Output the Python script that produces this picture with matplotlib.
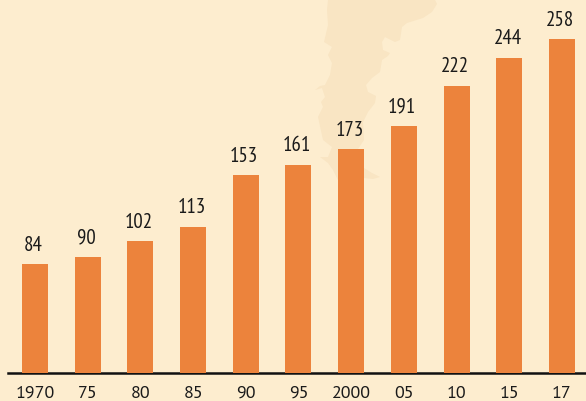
import matplotlib
matplotlib.use('Agg')
import matplotlib.pyplot as plt
from matplotlib import font_manager as fm
from matplotlib.patches import Polygon
from matplotlib.transforms import Affine2D

# -- Data --
years = ['1970', '75', '80', '85', '90', '95', '2000', '05', '10', '15', '17']
values = [84, 90, 102, 113, 153, 161, 173, 191, 222, 244, 258]

BG = '#FDEDCF'
BAR = '#EC833C'
MAP = '#F9E5C3'
W, H = 586, 401

# map silhouette behind the bars, traced in reference pixels
map_outline = [
    (328, 0), (435, 0), (437, 4), (432, 12), (423, 18), (407, 23), (402, 27),
    (400, 40), (395, 42), (385, 37), (382, 42), (383, 50), (390, 53), (388, 56),
    (382, 60), (380, 72), (372, 78), (366, 85), (368, 92), (376, 96), (375, 103),
    (368, 112), (363, 122), (364, 140), (358, 149), (364, 168), (372, 173),
    (380, 177), (373, 179), (364, 178), (338, 180), (333, 170), (328, 163),
    (320, 157), (328, 157), (332, 147), (323, 140), (318, 117), (323, 107),
    (321, 102), (325, 97), (322, 88), (315, 90), (320, 86), (325, 85), (330, 75),
    (332, 63), (328, 55), (332, 47), (324, 42), (328, 25), (327, 10),
]


def pick_font(*names):
    installed = {f.name for f in fm.fontManager.ttflist}
    for n in names:
        if n in installed:
            return n
    return 'DejaVu Sans'


narrow = pick_font('PT Sans Narrow', 'Fira Sans Condensed', 'Roboto Condensed', 'Liberation Sans')
regular = pick_font('PT Sans', 'Source Sans 3', 'Open Sans')

fig = plt.figure(figsize=(W / 100, H / 100), dpi=100, facecolor=BG)

# background shape in pixel coordinates (y flipped)
to_px = Affine2D().scale(1, -1).translate(0, H)
fig.add_artist(Polygon(map_outline, closed=True, facecolor=MAP, edgecolor='none',
                       transform=to_px, zorder=0))

# axes run from the baseline up to the top of the figure
base_y = 373
ax = fig.add_axes([0, (H - base_y) / H, 1, base_y / H])
ax.patch.set_visible(False)

step = 52.7
x0 = 35
ax.set_xlim(-x0 / step, (W - x0) / step)
ax.set_ylim(0, base_y / 1.293)

xs = list(range(len(values)))
ax.bar(xs, values, width=26 / step, color=BAR, zorder=3)
ax.axhline(0, xmin=8 / W, xmax=1, color='#111111', lw=1.8, zorder=2, clip_on=False)

# labels sit a little left of the bar centres in the original
for x, v in zip(xs, values):
    ax.annotate(str(v), (x, v), xytext=(-1.2, 9.8), textcoords='offset points',
                ha='center', va='baseline', fontsize=15, color='#1a1a1a',
                family=narrow)

ax.set_xticks(xs, years)
ax.tick_params(axis='x', length=0, pad=9, labelsize=13, labelcolor='#1a1a1a')
for lab in ax.get_xticklabels():
    lab.set_family(regular)
ax.set_yticks([])
for s in ax.spines.values():
    s.set_visible(False)

fig.savefig('out.png', dpi=100, facecolor=BG)
